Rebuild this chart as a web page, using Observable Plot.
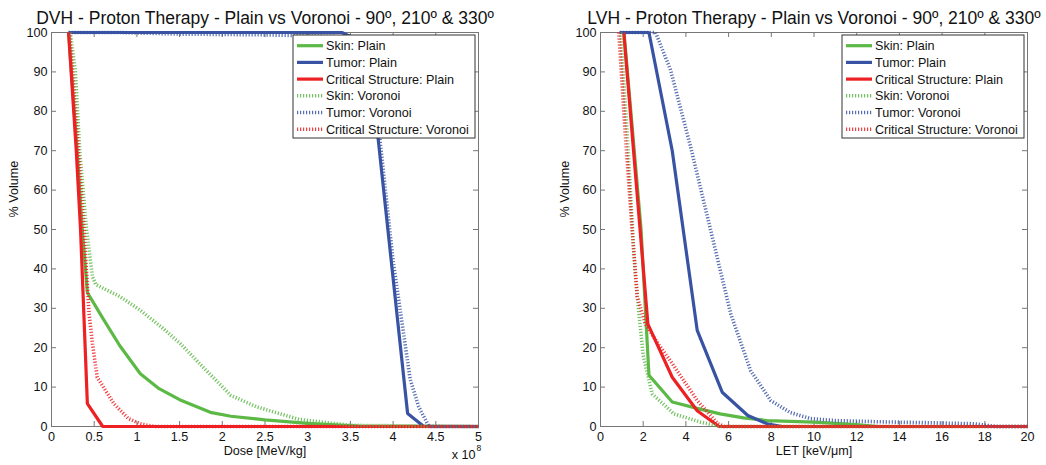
<!DOCTYPE html>
<html><head><meta charset="utf-8">
<script src="https://cdn.jsdelivr.net/npm/d3@7"></script>
<script src="https://cdn.jsdelivr.net/npm/@observablehq/plot@0.6"></script>
<style>
body{margin:0;background:#fff;}
#wrap{display:flex;width:1046px;height:465px;overflow:hidden;}
#wrap svg{font-family:"Liberation Sans",Arial,sans-serif;}
</style></head><body><div id="wrap"></div>
<script>
// ---------- data ----------
const seriesNames = ["Skin: Plain","Tumor: Plain","Critical Structure: Plain","Skin: Voronoi","Tumor: Voronoi","Critical Structure: Voronoi"];
const seriesColors = ["#5cb946","#3953a4","#ed2024","#5cb946","#3953a4","#ed2024"];
const seriesDotted = [false,false,false,true,true,true];
const yTicks = [0,10,20,30,40,50,60,70,80,90,100];

// DVH (Dose in units of 1e8 MeV/kg, % Volume)
const dvhXTicks = [0,0.5,1,1.5,2,2.5,3,3.5,4,4.5,5];
const dvhSkinPlain = [[0.2,100],[0.3,70],[0.36,50],[0.42,34],[0.6,27.5],[0.8,20.5],[1.04,13.4],[1.26,9.6],[1.5,6.8],[1.86,3.6],[2.1,2.6],[2.5,1.7],[3.0,0.8],[3.6,0.1],[5,0]];
const dvhTumorPlain = [[0.2,100],[3.4,100],[3.55,98.5],[3.7,91],[3.82,74],[4.17,3.3],[4.36,0],[5,0]];
const dvhCritPlain = [[0.2,100],[0.29,70],[0.34,50],[0.42,5.8],[0.6,0],[5,0]];
const dvhSkinVoronoi = [[0.22,100],[0.28,90],[0.33,70],[0.41,50],[0.48,38],[0.52,36],[0.8,33],[1.04,29.5],[1.3,25],[1.51,21],[1.8,14.5],[2.1,7.9],[2.4,5],[2.9,1.8],[3.5,0.3],[5,0]];
const dvhTumorVoronoi = [[0.2,100],[0.8,100],[1.5,99.6],[2.5,99.4],[3.3,99],[3.55,96],[3.75,86],[3.84,74],[4.0,42],[4.2,12],[4.3,5],[4.42,0],[5,0]];
const dvhCritVoronoi = [[0.21,100],[0.28,80],[0.38,50],[0.44,28.6],[0.48,21],[0.535,12.5],[0.73,5.8],[0.9,2],[1.04,0.7],[1.2,0],[5,0]];

// LVH (LET in keV/µm, % Volume)
const lvhXTicks = [0,2,4,6,8,10,12,14,16,18,20];
const lvhSkinPlain = [[1.1,100],[1.9,50],[2.27,13],[3.36,6.2],[4.53,4.6],[5.6,3.2],[6.7,2.2],[7.8,1.5],[10,1.1],[12,0.5],[13,0],[20,0]];
const lvhTumorPlain = [[0.9,100],[2.27,100],[3.36,70],[4.53,24.4],[5.7,8.7],[6.9,2.8],[7.8,0.7],[8.5,0],[20,0]];
const lvhCritPlain = [[1.09,100],[2.22,26],[3.36,12.5],[4.53,4],[5.55,0],[20,0]];
const lvhSkinVoronoi = [[0.95,100],[1.3,70],[1.55,45],[1.72,33],[2.0,18],[2.42,8.3],[3.44,3.2],[4.7,1.1],[5.6,0],[20,0]];
const lvhTumorVoronoi = [[0.9,100],[2.58,100],[3.28,90.5],[4.22,71],[5.16,49.8],[6.1,28.6],[7.03,14.2],[7.97,6.6],[8.9,3.5],[9.84,2.0],[11,1.5],[13,1.2],[15,1.0],[17.5,0.7],[18.5,0],[20,0]];
const lvhCritVoronoi = [[0.86,100],[1.15,75],[1.48,50],[1.72,33],[2.1,26],[2.7,21],[3.36,16],[4.53,6.6],[5.5,0.7],[5.8,0],[20,0]];

// ---------- drawing ----------
const FONT = 12.6;
const AX = "#777";
function makeChart({series, xDomain, xTicks, title, xLabel, marginLeft, marginRight, yLabelDx, exponent}) {
  const W = 523, H = 465, mT = 32, mB = 39;
  const plotW = W - marginLeft - marginRight, plotH = H - mT - mB;
  const marks = [
    Plot.frame({stroke: AX}),
    Plot.tickX(xTicks, {x: d => d, insetTop: plotH - 5, stroke: AX}),
    Plot.tickX(xTicks, {x: d => d, insetBottom: plotH - 5, stroke: AX}),
    Plot.tickY(yTicks, {y: d => d, insetRight: plotW - 5, stroke: AX}),
    Plot.tickY(yTicks, {y: d => d, insetLeft: plotW - 5, stroke: AX}),
    Plot.axisX({ticks: xTicks, tickSize: 0, tickPadding: 6, tickFormat: d => String(d), label: null, fill: "#111"}),
    Plot.axisY({ticks: yTicks, tickSize: 0, tickPadding: 4, tickFormat: d => String(d), label: null, fill: "#111"}),
  ];
  series.forEach((data, i) => {
    marks.push(Plot.line(data, {
      x: d => d[0], y: d => d[1], stroke: seriesColors[i],
      strokeWidth: seriesDotted[i] ? 3.6 : 3.2,
      strokeDasharray: seriesDotted[i] ? "1.2,1.8" : null,
      strokeOpacity: seriesDotted[i] ? 0.85 : 1,
      strokeLinejoin: "miter", strokeLinecap: "butt"
    }));
  });
  marks.push(Plot.text([title], {frameAnchor: "top", lineAnchor: "bottom", dy: -9, fontSize: 17.5, fill: "#111"}));
  marks.push(Plot.text([xLabel], {frameAnchor: "bottom", lineAnchor: "middle", dy: 24, fontSize: FONT, fill: "#111"}));
  marks.push(Plot.text(["% Volume"], {frameAnchor: "left", rotate: -90, dx: yLabelDx, dy: -12, fontSize: FONT, fill: "#111"}));
  if (exponent) {
    marks.push(Plot.text(["x 10"], {frameAnchor: "bottom-right", textAnchor: "end", lineAnchor: "middle", dx: -3, dy: 28, fontSize: FONT, fill: "#111"}));
    marks.push(Plot.text([exponent], {frameAnchor: "bottom-right", textAnchor: "start", lineAnchor: "middle", dx: -2, dy: 22, fontSize: 8.5, fill: "#111"}));
  }
  const svg = Plot.plot({
    width: W, height: H, marginTop: mT, marginBottom: mB, marginLeft, marginRight,
    x: {domain: xDomain}, y: {domain: [0, 100]},
    style: {fontSize: FONT + "px", fontFamily: '"Liberation Sans", Arial, sans-serif', background: "#fff", overflow: "visible"},
    marks
  });
  // legend inside the plot area, top-right
  const frameRight = W - marginRight;
  const bw = 182, bh = 103, bx = frameRight - 3 - bw, by = mT + 3;
  const g = d3.select(svg).append("g").attr("class", "legend").attr("text-anchor", "start");
  g.append("rect").attr("x", bx).attr("y", by).attr("width", bw).attr("height", bh)
    .attr("fill", "#fff").attr("stroke", "#333").attr("stroke-width", 1);
  seriesNames.forEach((name, i) => {
    const y = by + 10.7 + i * 16.7;
    g.append("line").attr("x1", bx + 4).attr("x2", bx + 30).attr("y1", y).attr("y2", y)
      .attr("stroke", seriesColors[i]).attr("stroke-width", seriesDotted[i] ? 3.6 : 3.2)
      .attr("stroke-dasharray", seriesDotted[i] ? "1.2,1.8" : null)
      .attr("stroke-opacity", seriesDotted[i] ? 0.85 : 1);
    g.append("text").attr("x", bx + 33).attr("y", y).attr("dy", "0.35em")
      .attr("text-anchor", "start").attr("font-size", FONT).attr("fill", "#111").text(name);
  });
  return svg;
}

const wrap = document.getElementById("wrap");
wrap.appendChild(makeChart({
  series: [dvhSkinPlain, dvhTumorPlain, dvhCritPlain, dvhSkinVoronoi, dvhTumorVoronoi, dvhCritVoronoi],
  xDomain: [0, 5], xTicks: dvhXTicks,
  title: "DVH - Proton Therapy - Plain vs Voronoi - 90º, 210º & 330º",
  xLabel: "Dose [MeV/kg]", marginLeft: 51, marginRight: 45, yLabelDx: -38, exponent: "8"
}));
wrap.appendChild(makeChart({
  series: [lvhSkinPlain, lvhTumorPlain, lvhCritPlain, lvhSkinVoronoi, lvhTumorVoronoi, lvhCritVoronoi],
  xDomain: [0, 20], xTicks: lvhXTicks,
  title: "LVH - Proton Therapy - Plain vs Voronoi - 90º, 210º & 330º",
  xLabel: "LET [keV/\u03bcm]", marginLeft: 77, marginRight: 19, yLabelDx: -36, exponent: null
}));
</script></body></html>
